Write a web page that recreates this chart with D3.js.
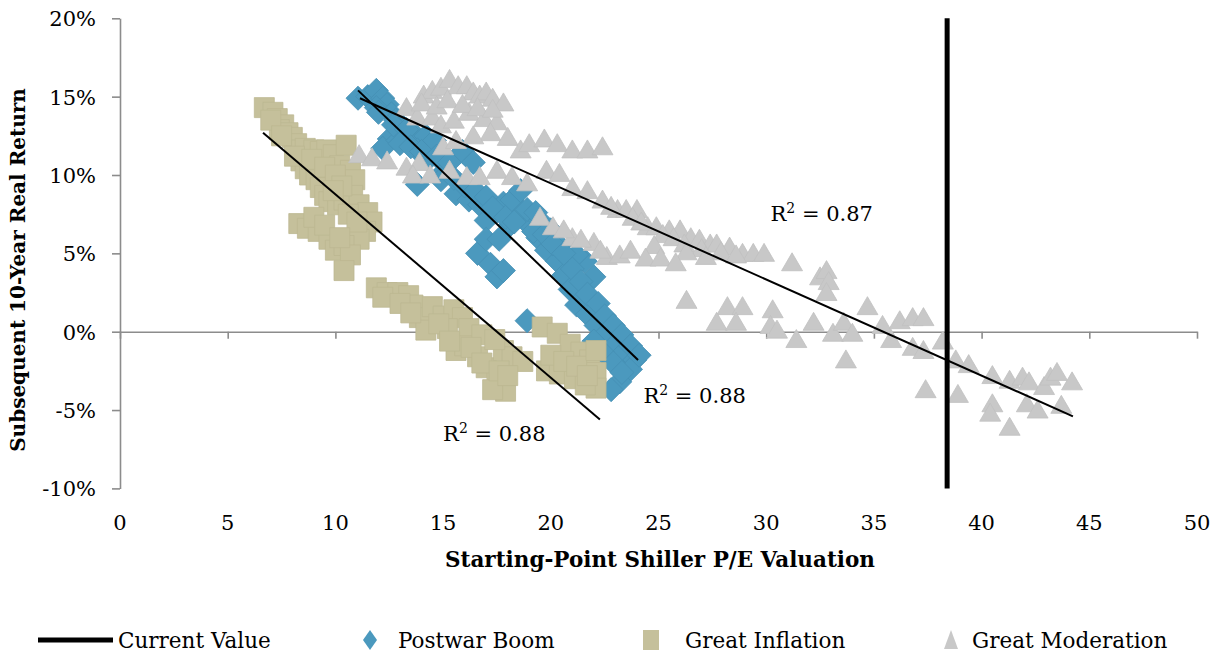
<!DOCTYPE html>
<html>
<head>
<meta charset="utf-8">
<script src="https://cdn.jsdelivr.net/npm/d3@7"></script>
<style>
  body { margin: 0; background: #fff; }
  text { font-family: "DejaVu Serif", serif; fill: #000; }
</style>
</head>
<body>
<div id="chart"></div>
<script>
// datos: [P/E inicial, retorno real 10 anos %]
var postwarBoom = [
  [11.05,14.9],[11.5,15.0],[11.9,15.4],[12.2,14.9],[12.4,14.5],[11.9,14.3],[12.6,13.9],
  [12.8,13.5],[13.1,13.1],[13.6,12.7],[14.2,12.5],[14.6,12.2],[12.5,12.3],[12.2,11.7],
  [12.9,12.2],[13.8,11.6],[14.3,11.0],[15.1,10.3],[15.9,11.5],[16.4,10.8],[13.8,9.4],
  [14.9,9.7],[15.6,8.8],[16.2,8.4],[16.7,8.1],[17.0,7.1],[17.5,7.7],[17.8,8.2],[18.2,8.4],
  [18.6,9.0],[18.7,7.6],[19.0,6.8],[19.4,6.0],[19.8,5.2],[20.3,4.5],[20.6,3.6],[20.9,2.7],
  [21.2,1.7],[21.7,1.1],[22.1,0.4],[22.5,-0.2],[23.0,-0.8],[23.4,-1.3],[23.9,-1.8],
  [23.7,-2.4],[23.2,-3.2],[22.8,-3.7],[16.6,5.0],[17.0,5.9],[17.2,4.3],[17.5,3.5],
  [17.8,3.9],[22.0,3.5],[21.6,4.5],[21.2,4.9],[18.9,0.7],[20.4,5.5],[20.0,6.5],[19.5,7.1],
  [18.1,6.8],[17.6,5.9],
  [12.0,14.0],[12.7,13.2],[13.3,12.9],[13.0,12.0],[13.5,11.8],[14.0,11.5],[14.7,11.2],
  [15.3,10.8],[15.5,9.8],[16.0,9.3],[16.5,9.0],[17.0,8.6],[17.3,7.9],[17.9,7.3],[18.3,7.0],
  [18.9,7.8],[19.3,7.6],[19.2,6.4],[19.7,6.2],[20.1,5.6],[20.6,5.0],[21.0,4.0],[21.4,3.2],
  [21.7,2.4],[22.2,1.8],[22.5,1.0],[22.9,0.4],[23.3,-0.2],[23.7,-0.9],[24.1,-1.5],
  [22.0,-0.6],[22.4,-1.3],[22.9,-2.0],[23.3,-2.6]
];

var greatInflation = [
  [6.7,14.3],[7.1,14.0],[7.3,13.6],[7.6,13.2],[7.4,12.9],[7.8,12.7],[8.0,12.4],[8.2,12.0],
  [8.4,11.6],[8.6,11.7],[9.0,11.6],[9.3,11.5],[9.6,11.6],[9.9,11.3],[10.5,11.9],[10.2,10.6],
  [10.7,10.3],[10.9,9.7],[8.4,10.9],[8.6,10.4],[8.8,10.0],[9.1,9.7],[9.3,9.2],[9.5,8.7],
  [9.7,8.3],[10.1,8.1],[10.4,8.4],[10.8,8.7],[11.1,8.1],[11.5,7.6],[11.7,7.0],[11.4,6.4],
  [11.1,5.9],[8.3,6.9],[8.7,6.6],[9.2,6.4],[9.7,5.9],[10.0,5.2],[10.4,5.5],[10.7,4.9],
  [10.4,3.9],[11.9,2.8],[12.4,2.5],[12.9,2.5],[13.4,2.3],[13.6,1.7],[13.9,0.9],[14.2,0.1],
  [14.5,1.6],[15.0,1.0],[15.5,1.4],[15.9,0.9],[16.2,0.2],[15.2,0.2],[15.6,-1.2],[16.0,-0.9],
  [16.6,-1.6],[17.0,-2.3],[17.5,-3.0],[17.9,-3.8],[17.3,-3.7],[17.8,-1.2],[18.2,-1.6],
  [18.7,-1.9],[16.8,-0.2],[17.4,-0.5],[19.6,0.3],[20.3,-0.1],[20.9,-0.8],[21.4,-1.3],
  [21.8,-1.8],[22.1,-2.6],[22.1,-3.6],[19.8,-2.5],[20.4,-2.7],[21.1,-3.0],[21.6,-3.4],
  [7.0,13.5],[7.5,12.5],[8.1,11.2],[8.9,11.0],[9.5,10.5],[10.0,10.0],[10.3,9.3],[9.9,9.0],
  [10.6,7.5],[11.0,7.0],[9.0,7.3],[9.5,6.8],[10.2,6.0],[12.2,2.2],[13.0,1.8],[13.5,1.2],
  [14.8,0.5],[15.3,-0.6],[16.3,-1.0],[16.8,-2.0],[17.6,-2.5],[18.0,-2.8],[20.0,-1.5],
  [20.6,-1.9],[21.2,-2.2],[21.7,-2.8],[22.1,-1.2]
];

var greatModeration = [
  [13.3,14.3],[13.8,13.7],[14.1,15.1],[14.5,15.4],[14.9,15.6],[15.3,16.1],[15.7,15.7],
  [16.1,15.7],[16.4,15.3],[16.7,15.1],[17.0,15.3],[17.3,14.9],[17.8,14.6],[14.5,13.7],
  [14.9,13.2],[15.5,13.5],[16.2,14.0],[16.9,13.6],[17.5,13.4],[17.2,12.7],
  [14.0,14.6],[14.7,14.4],[15.2,14.8],[15.9,14.5],[16.6,14.3],[17.3,14.2],
  [11.1,11.3],[11.7,11.1],[12.4,10.9],[13.3,10.5],[13.9,10.8],[13.6,10.0],[14.4,10.0],
  [18.0,12.4],[18.6,11.6],[19.0,12.0],[19.7,12.3],[20.3,12.0],[21.0,11.6],[21.7,11.6],[22.4,11.8],
  [15.0,11.8],[15.6,12.2],[16.4,12.5],[15.3,10.3],[16.1,9.9],[16.7,9.9],[17.5,10.3],
  [18.2,9.9],[18.9,9.5],[19.8,10.3],[20.4,10.1],[21.0,9.2],[21.7,9.0],[22.4,8.4],
  [23.1,7.8],[23.5,7.8],[24.0,7.8],[24.5,6.7],[24.9,6.7],[25.5,6.5],[26.0,6.5],[26.5,6.0],
  [26.9,5.9],[27.4,5.6],[27.7,5.6],[28.3,5.4],[28.9,5.0],[29.4,5.0],[29.9,5.0],[31.2,4.4],
  [32.5,3.5],[32.8,3.9],[32.9,3.2],[32.8,2.5],
  [22.8,8.0],[23.8,7.3],[24.2,7.0],[25.2,6.2],[25.7,6.0],[26.2,5.6],[27.0,5.3],[27.9,5.1],
  [28.6,4.9],[24.8,5.5],[26.3,5.1],[27.2,4.8],
  [19.5,7.3],[20.1,6.7],[21.0,6.0],[22.0,5.7],[22.6,4.8],[21.4,5.9],[22.3,5.2],[23.2,4.9],
  [23.7,5.2],[24.4,4.7],[25.1,4.7],[25.8,4.4],[20.6,6.5],
  [26.3,2.0],[28.2,1.6],[28.9,1.6],[27.7,0.6],[28.6,0.6],[30.3,1.4],[30.2,0.4],[30.5,0.1],
  [31.4,-0.5],[32.2,0.6],[33.1,-0.1],[33.6,0.6],[34.0,-0.1],[33.7,-1.8],[34.7,1.6],
  [35.4,0.4],[35.8,-0.5],[36.2,0.7],[36.8,0.9],[37.3,0.9],[36.8,-1.0],[37.3,-1.2],
  [38.2,-0.6],[37.4,-3.7],[38.8,-1.8],[38.9,-4.0],[39.4,-2.1],[40.5,-2.8],[41.3,-3.1],
  [41.9,-2.9],[42.2,-3.2],[42.9,-3.5],[43.2,-2.9],[43.5,-2.6],[44.2,-3.2],[43.7,-4.7],
  [42.1,-4.6],[42.6,-5.0],[40.5,-4.6],[40.4,-5.2],[41.3,-6.1]
];

var currentValue = 38.4;

// lineas de tendencia: [x1, y1, x2, y2] y su etiqueta R2
var trendLines = [
  {pts: [11.05, 15.4, 24.05, -1.8], r2: "0.88", lx: 24.3, ly: -4.55},
  {pts: [6.64, 12.7, 22.28, -5.6], r2: "0.88", lx: 15.0, ly: -7.0},
  {pts: [11.14, 14.9, 44.24, -5.4], r2: "0.87", lx: 30.2, ly: 7.07}
];

var xTicks = [0, 5, 10, 15, 20, 25, 30, 35, 40, 45, 50];
var yTicks = [-10, -5, 0, 5, 10, 15, 20];
var legendLabels = ["Current Value", "Postwar Boom", "Great Inflation", "Great Moderation"];

var width = 1219, height = 654;
var colors = {blue: "#4b99be", tan: "#c5c09b", gray: "#c8c8c8"};

var svg = d3.select("#chart").append("svg")
  .attr("width", width)
  .attr("height", height);

var x = d3.scaleLinear().domain([0, 50]).range([120, 1197]);
var y = d3.scaleLinear().domain([-10, 20]).range([488.4, 18.3]);

// eje Y
var yAxis = svg.append("g")
  .attr("transform", "translate(" + x(0) + ",0)")
  .call(d3.axisLeft(y).tickValues(yTicks).tickSizeInner(8).tickSizeOuter(0)
    .tickFormat(function(d) { return d + "%"; }));
yAxis.selectAll("text").style("font-size", "21px").attr("x", -24).attr("dy", "0.35em");

// eje X sobre el 0%
var xAxis = svg.append("g")
  .attr("transform", "translate(0," + y(0) + ")")
  .call(d3.axisBottom(x).tickValues(xTicks).tickSizeInner(7).tickSizeOuter(0).tickFormat(""));
xAxis.selectAll("text").remove();

svg.selectAll("path.domain, .tick line").attr("stroke", "#8c8c8c").attr("stroke-width", 1.6);

// etiquetas del eje X abajo
svg.append("g").selectAll("text")
  .data(xTicks)
  .enter().append("text")
  .attr("x", function(d) { return x(d); })
  .attr("y", 530)
  .attr("text-anchor", "middle")
  .style("font-size", "21px")
  .text(function(d) { return d; });

// titulos de ejes
svg.append("text")
  .attr("x", 660).attr("y", 567)
  .attr("text-anchor", "middle")
  .style("font-size", "21.5px").style("font-weight", "bold")
  .text("Starting-Point Shiller P/E Valuation");

svg.append("text")
  .attr("transform", "translate(25,270) rotate(-90)")
  .attr("text-anchor", "middle")
  .style("font-size", "20px").style("font-weight", "bold")
  .text("Subsequent 10-Year Real Return");

// marcadores
var diamond = d3.symbol().type(d3.symbolSquare).size(290);
var square = "M-10,-10H10V10H-10Z";
var triangle = "M0,-10L10.5,8L-10.5,8Z";

svg.append("g").selectAll("path")
  .data(postwarBoom)
  .enter().append("path")
  .attr("d", diamond)
  .attr("transform", function(d) { return "translate(" + x(d[0]) + "," + y(d[1]) + ") rotate(45)"; })
  .attr("fill", colors.blue)
  .attr("stroke", "#4690b5")
  .attr("stroke-width", 0.8);

svg.append("g").selectAll("path")
  .data(greatInflation)
  .enter().append("path")
  .attr("d", square)
  .attr("transform", function(d) { return "translate(" + x(d[0]) + "," + y(d[1]) + ")"; })
  .attr("fill", colors.tan)
  .attr("stroke", "#bcb792")
  .attr("stroke-width", 0.8);

svg.append("g").selectAll("path")
  .data(greatModeration)
  .enter().append("path")
  .attr("d", triangle)
  .attr("transform", function(d) { return "translate(" + x(d[0]) + "," + y(d[1]) + ")"; })
  .attr("fill", colors.gray)
  .attr("stroke", "#c0c0c0")
  .attr("stroke-width", 0.8);

// lineas de tendencia
svg.append("g").selectAll("line")
  .data(trendLines)
  .enter().append("line")
  .attr("x1", function(d) { return x(d.pts[0]); })
  .attr("y1", function(d) { return y(d.pts[1]); })
  .attr("x2", function(d) { return x(d.pts[2]); })
  .attr("y2", function(d) { return y(d.pts[3]); })
  .attr("stroke", "#000")
  .attr("stroke-width", 2);

var r2 = svg.append("g").selectAll("text")
  .data(trendLines)
  .enter().append("text")
  .attr("x", function(d) { return x(d.lx); })
  .attr("y", function(d) { return y(d.ly); })
  .style("font-size", "21px");
r2.append("tspan").text("R");
r2.append("tspan").attr("dy", -8).style("font-size", "14px").text("2");
r2.append("tspan").attr("dy", 8).text(function(d) { return " = " + d.r2; });

// valor actual
svg.append("line")
  .attr("x1", x(currentValue)).attr("x2", x(currentValue))
  .attr("y1", y(20)).attr("y2", y(-10))
  .attr("stroke", "#000")
  .attr("stroke-width", 5);

// leyenda
var leg = svg.append("g");
leg.append("line").attr("x1", 38).attr("x2", 113).attr("y1", 640).attr("y2", 640)
  .attr("stroke", "#000").attr("stroke-width", 5);
leg.append("path").attr("d", "M0,-10L7,0L0,10L-7,0Z")
  .attr("transform", "translate(370,640)").attr("fill", colors.blue);
leg.append("path").attr("d", "M-8,-10H8V10H-8Z")
  .attr("transform", "translate(651,640)").attr("fill", colors.tan);
leg.append("path").attr("d", "M0,-10L7,9L-7,9Z")
  .attr("transform", "translate(951,640)").attr("fill", colors.gray);

var legX = [118, 398, 685, 972];
leg.selectAll("text")
  .data(legendLabels)
  .enter().append("text")
  .attr("x", function(d, i) { return legX[i]; })
  .attr("y", 648)
  .style("font-size", "21.5px")
  .text(function(d) { return d; });
</script>
</body>
</html>
